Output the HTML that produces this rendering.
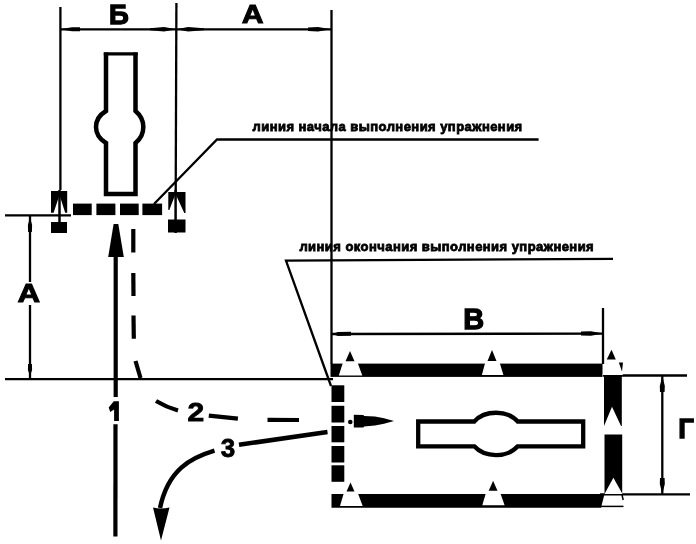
<!DOCTYPE html>
<html><head><meta charset="utf-8">
<style>
html,body{margin:0;padding:0;background:#fff;width:696px;height:544px;overflow:hidden;}
svg{display:block;transform:translateZ(0);}
text{font-family:"Liberation Sans",sans-serif;font-weight:bold;fill:#000;}
</style></head><body>
<svg width="696" height="544" viewBox="0 0 696 544">
<g stroke="#000" stroke-width="2.3" fill="none">
  <!-- extension lines -->
  <line x1="60.4" y1="7" x2="60.4" y2="190"/>
  <line x1="176.4" y1="3" x2="175.7" y2="192"/>
  <line x1="331.5" y1="10" x2="331.5" y2="364"/>
  <line x1="603" y1="308" x2="603" y2="364"/>
  <!-- top dim line -->
  <line x1="60" y1="29.3" x2="331" y2="29.3"/>
  <!-- horizontal ground lines -->
  <line x1="5" y1="215.3" x2="71" y2="215.3"/>
  <line x1="5" y1="379.2" x2="333" y2="379.2"/>
  <line x1="603" y1="375.5" x2="687" y2="375.5"/>
  <line x1="600" y1="494.3" x2="690" y2="494.3"/>
  <!-- left vertical dim A -->
  <line x1="30" y1="216" x2="30" y2="282"/>
  <line x1="30" y1="305" x2="30" y2="378"/>
  <!-- dim В -->
  <line x1="332" y1="334" x2="603" y2="333.6"/>
  <!-- dim Г -->
  <line x1="662.3" y1="376" x2="662.3" y2="494"/>
  <!-- leaders -->
  <polyline points="154,204 217,139.5 538.6,139.5"/>
  <polyline points="331,386 286,260.6 613,258.8"/>
</g>
<!-- arrowheads on dim lines -->
<g fill="#000">
  <path d="M60,29.3 L72,27.3 L80,27.3 L80,31.3 L72,31.3 Z"/>
  <path d="M176.5,29.3 L164,27.1 L150,28.3 L150,30.3 L164,31.5 Z"/>
  <path d="M176.5,29.3 L188,27.1 L204,28.3 L204,30.3 L188,31.5 Z"/>
  <path d="M331,29.3 L318,27.1 L308,27.6 L308,31 L318,31.5 Z"/>
  <path d="M30,216 L29,221 L27.9,225 L28.1,232 L31.9,232 L32.1,225 L31,221 Z"/>
  <path d="M30,378.5 L29,373 L27.9,370 L28.1,364 L31.9,364 L32.1,370 L31,373 Z"/>
  <path d="M332,334 L338,332 L351,331.8 L351,335.8 L338,336 Z"/>
  <path d="M603,333.5 L591,331.3 L581,331.6 L581,335.4 L591,335.7 Z"/>
  <path d="M662.3,376 L659.8,386 L660,392 L664.6,392 L664.8,386 Z"/>
  <path d="M662.3,494 L659.8,484 L660,478 L664.6,478 L664.8,484 Z"/>
</g>
<!-- letters -->
<text x="119" y="23.6" font-size="27.5" text-anchor="middle" stroke="#000" stroke-width="1.3">Б</text>
<text transform="translate(252.7,23) scale(1.08,0.9)" x="0" y="0" font-size="28" text-anchor="middle" stroke="#000" stroke-width="1">А</text>
<text transform="translate(28.9,302) scale(1.12,0.95)" x="0" y="0" font-size="28" text-anchor="middle" stroke="#000" stroke-width="1">А</text>
<text x="473.8" y="329.3" font-size="29" text-anchor="middle" stroke="#000" stroke-width="1.3">В</text>
<text x="686" y="438" font-size="27.5" text-anchor="middle" stroke="#000" stroke-width="1.3">Г</text>
<path d="M113.8,401.3 H118.9 V421 H114.1 V409.5 L110.2,412 L108.7,407.6 Z" fill="#000"/>
<text transform="translate(195.8,420.5) scale(1.2,1)" x="0" y="0" font-size="25" text-anchor="middle" stroke="#000" stroke-width="0.8">2</text>
<text x="228" y="457" font-size="26" text-anchor="middle" stroke="#000" stroke-width="0.8">3</text>
<text x="252.5" y="131" font-size="13" letter-spacing="0.45" stroke="#000" stroke-width="0.8">линия начала выполнения упражнения</text>
<text x="299.4" y="251.2" font-size="13" letter-spacing="0.45" stroke="#000" stroke-width="0.8">линия окончания выполнения упражнения</text>

<!-- start gate markers -->
<g fill="#000">
  <path d="M51,191 H67.2 V212.8 H65.2 L59.5,195 L53.6,212.8 H51 Z"/>
  <rect x="51" y="222" width="16" height="11"/>
  <path d="M168.3,192 H185.5 V213 H184.3 L175.5,194 L169.3,210 H168.3 Z"/>
  <rect x="168" y="219.5" width="17.5" height="13"/>
  <rect x="73" y="203.6" width="18.7" height="11.5"/>
  <rect x="96.4" y="203.6" width="19" height="11.5"/>
  <rect x="120" y="203.6" width="18.7" height="11.5"/>
  <rect x="142.4" y="203.6" width="19.7" height="11.5"/>
</g>
<!-- vertical lines through markers -->
<line x1="59.5" y1="190" x2="59.5" y2="233" stroke="#000" stroke-width="2.5"/>
<line x1="175.6" y1="190" x2="175.6" y2="233" stroke="#000" stroke-width="2.5"/>

<!-- vehicle vertical -->
<path d="M135.5,52.5 V111 A25 22 0 0 1 135.5 143 V194 H106 V143 A25 20 0 0 1 106 111 V52.5" fill="none" stroke="#000" stroke-width="4.5"/>
<line x1="103.8" y1="53.8" x2="137.7" y2="53.8" stroke="#000" stroke-width="3.2"/>
<!-- vehicle horizontal -->
<path d="M418.2,421.5 H474.3 A26.5 20.5 0 0 1 517.7 421.5 H583.2 V446.3 H517.7 A26.5 20.5 0 0 1 474.3 446.3 H418.2 Z" fill="none" stroke="#000" stroke-width="4.3"/>

<!-- path 1 arrow -->
<path d="M113.6,224 L118.3,224 L123.8,257 L108.2,257 Z" fill="#000"/>
<g stroke="#000" stroke-width="4.2" fill="none">
  <line x1="115.7" y1="256" x2="115.7" y2="397"/>
  <line x1="115.5" y1="424.2" x2="115.4" y2="536.6"/>
</g>
<!-- path 2 dashed -->
<g stroke="#000" stroke-width="4.2" fill="none" stroke-linecap="butt">
  <line x1="133.3" y1="229" x2="133.3" y2="252.5"/>
  <line x1="133.3" y1="273" x2="133.5" y2="296"/>
  <line x1="133.5" y1="315.5" x2="133.8" y2="338.7"/>
  <line x1="135.5" y1="361" x2="140.5" y2="378"/>
  <path d="M156,401 Q166,407 178,410.5"/>
  <line x1="208.8" y1="415.6" x2="237.9" y2="418.6"/>
  <line x1="267.5" y1="419.8" x2="299" y2="420"/>
</g>
<circle cx="350.3" cy="422" r="2.3" fill="#000"/>
<path d="M353.8,414.7 L363.5,414.9 L364,416 L375,416.6 L384,418.2 L394,421 L384,423.8 L375,425.6 L364,426.4 L363.5,427.5 L353.8,427.6 Z" fill="#000"/>
<!-- path 3 -->
<g stroke="#000" stroke-width="4.5" fill="none">
  <line x1="327.5" y1="432" x2="239" y2="444.8"/>
  <path d="M214.5,450.7 C190,458 168,470 160,508"/>
</g>
<path d="M153,507.5 Q161,509.5 169.5,507.5 L161,540.5 Z" fill="#000"/>

<!-- finish rectangle -->
<g fill="#000">
  <!-- top band -->
  <rect x="330.5" y="363.6" width="272" height="13.3"/>
  <!-- bottom band -->
  <polygon points="331.5,494.1 604.5,494.1 601.2,507 601.2,507.8 331.5,507.8"/>
  <!-- left squares -->
  <rect x="331.5" y="385.3" width="12.8" height="16.7"/>
  <rect x="331.5" y="405.8" width="12.8" height="16.7"/>
  <rect x="331.5" y="426" width="12.8" height="16.3"/>
  <rect x="331.5" y="446" width="12.8" height="16.5"/>
  <rect x="331.5" y="465.3" width="12.8" height="16.5"/>
  <!-- right column -->
  <rect x="604" y="375" width="17.8" height="51"/>
  <rect x="604.5" y="434.5" width="17.7" height="59.5"/>
</g>
<!-- cones white parts -->
<g fill="#fff">
  <polygon points="342.8,363 357.7,363 362.3,375.5 338.8,375.5"/>
  <polygon points="485.2,362.5 499.6,362.5 503.4,375 481.9,375"/>
  <polygon points="343.7,493.5 358,493.5 362.7,506 340,506"/>
  <polygon points="485.9,493 500.3,493 504.6,505.3 482.3,505.3"/>
  <polygon points="612,406.8 621,426 604,426"/>
  <polygon points="613.4,477.8 622.5,494 604.5,494"/>
  <polygon points="611.5,349.8 623,375 602.5,375"/>
</g>
<g fill="#000">
  <polygon points="350,351 354.5,361.3 345.5,361.3"/>
  <polygon points="492,350 496.5,360.9 487.5,360.9"/>
  <polygon points="350.5,482.6 354.5,491.5 346.5,491.5"/>
  <polygon points="493.1,480.8 497.5,490.8 488.7,490.8"/>
  <polygon points="611.5,349.8 615.8,359.4 606.7,359.4"/>
  <polygon points="618.8,362.4 623,362.4 622,371.5"/>
</g>
<!-- bottom-right cone below line -->
<g stroke="#000" stroke-width="1.5" fill="none">
  <line x1="601" y1="506.4" x2="623.5" y2="506.4"/>
  <line x1="621.8" y1="494" x2="623.2" y2="500"/>
</g>
</svg>
</body></html>
